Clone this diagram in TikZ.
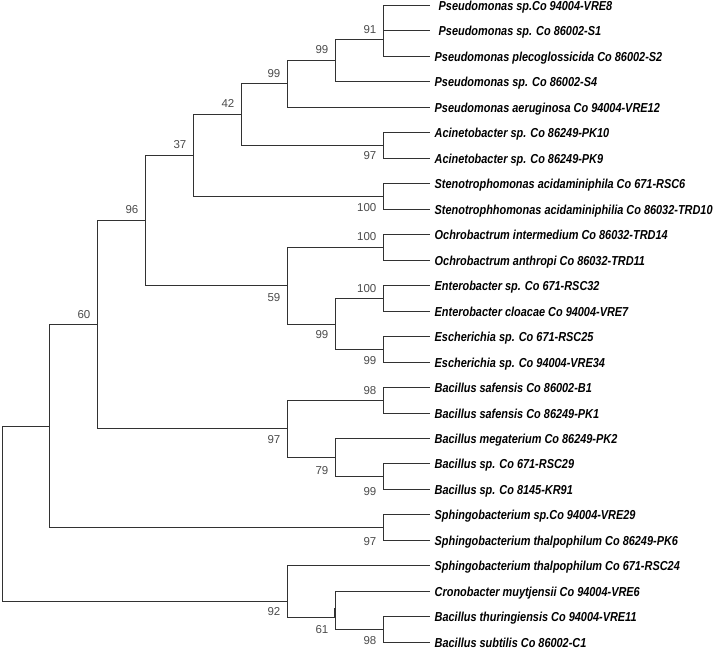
\documentclass[tikz,border=0pt]{standalone}
\usepackage{fontspec}
\setmainfont{Liberation Sans}
\newfontfamily\leaffont{Liberation Sans}[FakeStretch=0.84]
\definecolor{treegray}{RGB}{50,50,50}
\definecolor{bootgray}{RGB}{75,75,75}

\begin{document}
\begin{tikzpicture}[x=1pt,y=-1pt,
  branch/.style={draw=treegray,line width=1pt},
  leaf/.style={anchor=west,inner xsep=4.5pt,inner ysep=0pt,text height=9.4pt,text depth=0pt,
    font=\leaffont\bfseries\itshape\fontsize{13}{15}\selectfont},
  boot/.style={anchor=east,inner sep=0pt,text=bootgray,font=\fontsize{11.5}{13}\selectfont}]
  \useasboundingbox (0,0) rectangle (716,649);

  % leaves, top to bottom
  \foreach \t [count=\i] in {
    {\kern4pt Pseudomonas sp.Co 94004-VRE8},
    {\kern4pt Pseudomonas sp. Co 86002-S1},
    {Pseudomonas plecoglossicida Co 86002-S2},
    {Pseudomonas sp. Co 86002-S4},
    {Pseudomonas aeruginosa Co 94004-VRE12},
    {Acinetobacter sp. Co 86249-PK10},
    {Acinetobacter sp. Co 86249-PK9},
    {Stenotrophomonas acidaminiphila Co 671-RSC6},
    {Stenotrophhomonas acidaminiphilia Co 86032-TRD10},
    {Ochrobactrum intermedium Co 86032-TRD14},
    {Ochrobactrum anthropi Co 86032-TRD11},
    {Enterobacter sp. Co 671-RSC32},
    {Enterobacter cloacae Co 94004-VRE7},
    {Escherichia sp. Co 671-RSC25},
    {Escherichia sp. Co 94004-VRE34},
    {Bacillus safensis Co 86002-B1},
    {Bacillus safensis Co 86249-PK1},
    {Bacillus megaterium Co 86249-PK2},
    {Bacillus sp. Co 671-RSC29},
    {Bacillus sp. Co 8145-KR91},
    {Sphingobacterium sp.Co 94004-VRE29},
    {Sphingobacterium thalpophilum Co 86249-PK6},
    {Sphingobacterium thalpophilum Co 671-RSC24},
    {Cronobacter muytjensii Co 94004-VRE6},
    {Bacillus thuringiensis Co 94004-VRE11},
    {Bacillus subtilis Co 86002-C1}}
    \node[leaf] (L\i) at (430,{round(5+25.47*(\i-1))+0.5}) {\t};

  % internal nodes
  \coordinate (n91) at (383.5,39.5);
  \coordinate (n99a) at (335.5,60.5);
  \coordinate (n99b) at (287.5,83.5);
  \coordinate (n97a) at (383.5,145.5);
  \coordinate (n42) at (241.5,114.5);
  \coordinate (n100a) at (383.5,196.5);
  \coordinate (n37) at (193.5,155.5);
  \coordinate (n100b) at (383.5,247.5);
  \coordinate (n100c) at (383.5,298.5);
  \coordinate (n99c) at (383.5,349.5);
  \coordinate (n99d) at (335.5,324.5);
  \coordinate (n59) at (287.5,285.5);
  \coordinate (n96) at (145.5,220.5);
  \coordinate (n98a) at (383.5,400.5);
  \coordinate (n99e) at (383.5,476.5);
  \coordinate (n79) at (335.5,457.5);
  \coordinate (n97b) at (287.5,428.5);
  \coordinate (n60) at (97.5,324.5);
  \coordinate (n97c) at (383.5,527.5);
  \coordinate (nA) at (49.5,426.5);
  \coordinate (n98b) at (383.5,629.5);
  \coordinate (n61) at (335.5,617.5);
  \coordinate (n92) at (287.5,601.5);
  \coordinate (root) at (2.5,514.5);

  % branches
  \foreach \p/\c in {n91/L1.west,n91/L2.west,n91/L3.west,n99a/n91,n99a/L4.west,
      n99b/n99a,n99b/L5.west,n97a/L6.west,n97a/L7.west,n42/n99b,n42/n97a,
      n100a/L8.west,n100a/L9.west,n37/n42,n37/n100a,n96/n37,n96/n59,
      n100b/L10.west,n100b/L11.west,n100c/L12.west,n100c/L13.west,
      n99c/L14.west,n99c/L15.west,n99d/n100c,n99d/n99c,n59/n100b,n59/n99d,
      n60/n96,n60/n97b,n98a/L16.west,n98a/L17.west,n99e/L19.west,n99e/L20.west,
      n79/L18.west,n79/n99e,n97b/n98a,n97b/n79,nA/n60,nA/n97c,
      n97c/L21.west,n97c/L22.west,n92/L23.west,n92/n61,n61/L24.west,n61/n98b,
      n98b/L25.west,n98b/L26.west,root/nA,root/n92}
    \draw[branch] (\p) |- (\c);
  \draw[branch,line width=2pt] ([xshift=-1pt]n61) -- ++(0,-10);

  % bootstrap values
  \foreach \x/\y/\v [count=\i] in {376.5/30/91,328.5/50/99,280.5/74/99,234.5/103/42,
      186.5/145/37,138.5/210/96,90.5/315/60,376.5/156/97,376.5/208/100,
      376.5/237/100,280.5/298/59,376.5/289/100,328.5/335/99,376.5/361/99,
      376.5/391/98,280.5/440/97,328.5/471/79,376.5/492/99,376.5/542/97,
      280.5/612/92,328.5/630/61,376.5/641/98}
    \node[boot] (b\i) at (\x,\y) {\v};
\end{tikzpicture}
\end{document}
